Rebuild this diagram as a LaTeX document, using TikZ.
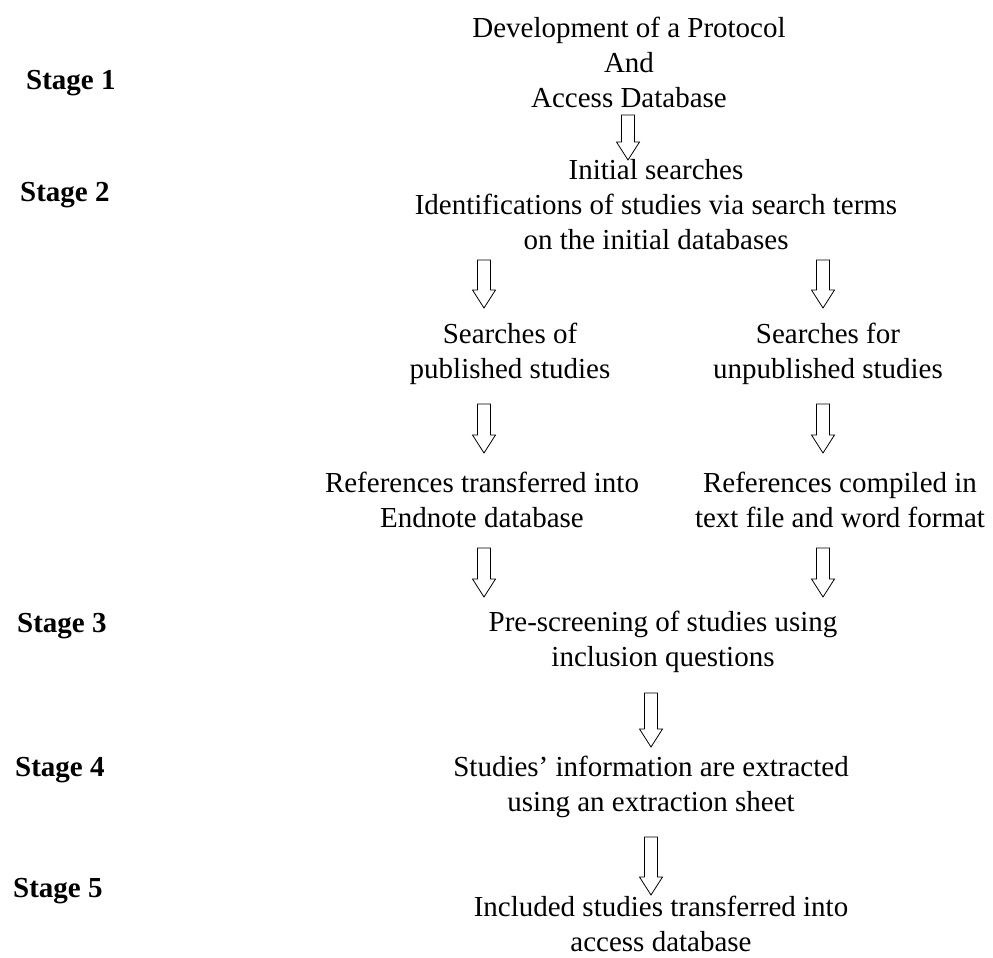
\documentclass[tikz,border=0pt]{standalone}
\usepackage{fontspec}
\setmainfont{Liberation Serif}
\usetikzlibrary{positioning}

\begin{document}
\begin{tikzpicture}[x=1pt, y=-1pt,
  font=\fontsize{29}{35}\selectfont,
  box/.style={align=center, inner sep=0pt},
  stage/.style={anchor=west, inner sep=0pt, font=\fontsize{29}{35}\selectfont\bfseries},
  pics/flowarrow/.style={code={
    \draw[line width=0.8pt, fill=white] (-6.5,0) -- (6.5,0) -- (6.5,{#1-18})
      -- (11.5,{#1-18}) -- (0,#1) -- (-11.5,{#1-18}) -- (-6.5,{#1-18}) -- cycle;}}]
\useasboundingbox (0,0) rectangle (993,958);
% stages
\node[stage] (s1) at (26,83) {Stage 1};
\node[stage] (s2) at (20,195) {Stage 2};
\node[stage] (s3) at (17,626) {Stage 3};
\node[stage] (s4) at (15,770) {Stage 4};
\node[stage] (s5) at (13,891) {Stage 5};
% steps
\node[box] (proto) at (629,62) {Development of a Protocol\\ And\\ Access Database};
\node[box] (init) at (656,205) {Initial searches\\ Identifications of studies via search terms\\ on the initial databases};
\node[box] (pub) at (510,354) {Searches of\\ published studies};
\node[box] (unpub) at (828,354) {Searches for\\ unpublished studies};
\node[box] (endn) at (482,500) {References transferred into\\ Endnote database};
\node[box] (txtf) at (840,500) {References compiled in\\ text file and word format};
\node[box] (prescr) at (663,642) {Pre-screening of studies using\\ inclusion questions};
\node[box] (extr) at (651,787) {Studies' information are extracted\\ using an extraction sheet};
\node[box] (incl) at (661,924) {Included studies transferred into\\ access database};
% arrows
\pic (a1) at (628,115) {flowarrow=45};
\pic (a2l) at (484,260) {flowarrow=48};
\pic (a2r) at (823,260) {flowarrow=48};
\pic (a3l) at (484,404) {flowarrow=49};
\pic (a3r) at (823,404) {flowarrow=49};
\pic (a4l) at (484,548) {flowarrow=49};
\pic (a4r) at (823,548) {flowarrow=49};
\pic (a5) at (651,693) {flowarrow=54};
\pic (a6) at (651,837) {flowarrow=58};
\end{tikzpicture}
\end{document}
